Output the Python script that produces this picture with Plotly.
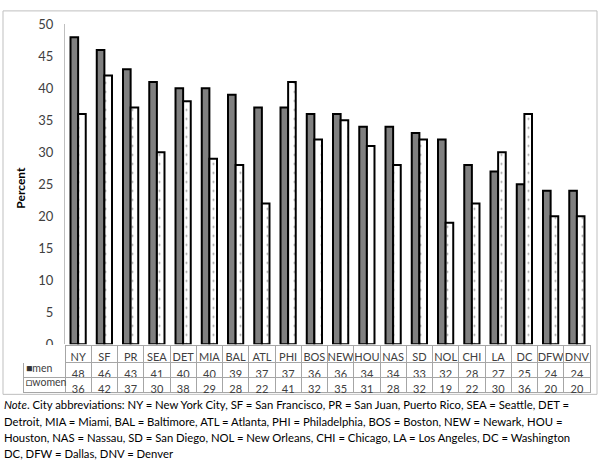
import plotly.graph_objects as go

cities = ["NY", "SF", "PR", "SEA", "DET", "MIA", "BAL", "ATL", "PHI", "BOS",
          "NEW", "HOU", "NAS", "SD", "NOL", "CHI", "LA", "DC", "DFW", "DNV"]
men = [48, 46, 43, 41, 40, 40, 39, 37, 37, 36, 36, 34, 34, 33, 32, 28, 27, 25, 24, 24]
women = [36, 42, 37, 30, 38, 29, 28, 22, 41, 32, 35, 31, 28, 32, 19, 22, 30, 36, 20, 20]
series_names = ["men", "women"]
y_ticks = [0, 5, 10, 15, 20, 25, 30, 35, 40, 45, 50]
note_lines = [
    "<i>Note</i>. City abbreviations: NY = New York City, SF = San Francisco, PR = San Juan, Puerto Rico, SEA = Seattle, DET =",
    "Detroit, MIA = Miami, BAL = Baltimore, ATL = Atlanta, PHI = Philadelphia, BOS = Boston, NEW = Newark, HOU =",
    "Houston, NAS = Nassau, SD = San Diego, NOL = New Orleans, CHI = Chicago, LA = Los Angeles, DC = Washington",
    "DC, DFW = Dallas, DNV = Denver",
]

W, H = 600, 469
FONT = "Lato"
TXT = "#404040"

def px_x(p):
    return p / W

def px_y(p):
    return 1 - p / H

x0, x1 = 65, 590
y_top, y_zero = 17, 348

fig = go.Figure()
fig.add_trace(go.Bar(
    name=series_names[0], x=cities, y=men,
    marker=dict(color="#808080", line=dict(color="black", width=2)),
))
fig.add_trace(go.Bar(
    name=series_names[1], x=cities, y=women,
    marker=dict(color="white", line=dict(color="black", width=2),
                pattern=dict(shape=".", fgcolor="#333333", bgcolor="white",
                             size=9, solidity=0.04)),
))

# data table below the chart
leg_w = x0 - 23
col_w = (x1 - x0) / len(cities)
header_vals = [""] + cities
cells_vals = [["", ""]] + [[m, w] for m, w in zip(men, women)]
line_cols = ["white"] + ["#a6a6a6"] * len(cities)
fig.add_trace(go.Table(
    domain=dict(x=[px_x(23), px_x(x1)], y=[px_y(399), px_y(y_zero + 1)]),
    columnwidth=[leg_w] + [col_w] * len(cities),
    header=dict(values=header_vals, height=17,
                line=dict(color=line_cols, width=1),
                fill=dict(color="white"),
                align="center",
                font=dict(family=FONT, size=11, color=TXT)),
    cells=dict(values=cells_vals, height=15,
               line=dict(color="#a6a6a6", width=1),
               fill=dict(color="white"),
               align="center",
               font=dict(family=FONT, size=11, color=TXT)),
))

annotations = [
    dict(text="<b>Percent</b>", textangle=-90, xref="paper", yref="paper",
         x=px_x(21), y=px_y(186), xanchor="center", yanchor="middle",
         showarrow=False, font=dict(family=FONT, size=12, color="black")),
]
# legend keys inside the table's first column
markers = ["<span style='color:#333333'>■</span>", "<span style='color:black'>□</span>"]
for i, (mk, nm) in enumerate(zip(markers, series_names)):
    annotations.append(dict(
        text=mk + nm, xref="paper", yref="paper", x=px_x(24), y=px_y(373 + 14.5 * i),
        xanchor="left", yanchor="middle", align="left", showarrow=False,
        font=dict(family=FONT, size=10.5, color=TXT)))
for i, line in enumerate(note_lines):
    annotations.append(dict(
        text=line, xref="paper", yref="paper", x=px_x(2), y=px_y(411 + 16.7 * i),
        xanchor="left", yanchor="middle", align="left", showarrow=False,
        font=dict(family=FONT, size=11.3, color="black")))

fig.update_layout(
    width=W, height=H,
    margin=dict(l=0, r=0, t=0, b=0),
    paper_bgcolor="white", plot_bgcolor="white",
    barmode="group", bargap=0.42, bargroupgap=0,
    showlegend=False,
    font=dict(family=FONT, color=TXT),
    xaxis=dict(domain=[px_x(x0), px_x(x1)], showticklabels=False,
               showline=False, showgrid=False, zeroline=False, ticks=""),
    yaxis=dict(domain=[px_y(y_zero), px_y(y_top)], range=[0, 50],
               tickvals=y_ticks, showgrid=False, zeroline=False,
               showline=True, linecolor="#bfbfbf", linewidth=1,
               ticks="", ticklabelstandoff=8,
               tickfont=dict(family=FONT, size=13, color=TXT)),
    shapes=[dict(type="rect", xref="paper", yref="paper",
                 x0=px_x(3), x1=px_x(597), y0=px_y(400), y1=px_y(3),
                 line=dict(color="#bfbfbf", width=1))],
    annotations=annotations,
)

fig.write_html("out.html", config={"displayModeBar": False},
               post_script="document.body.style.margin='0';document.body.style.overflow='hidden';")
